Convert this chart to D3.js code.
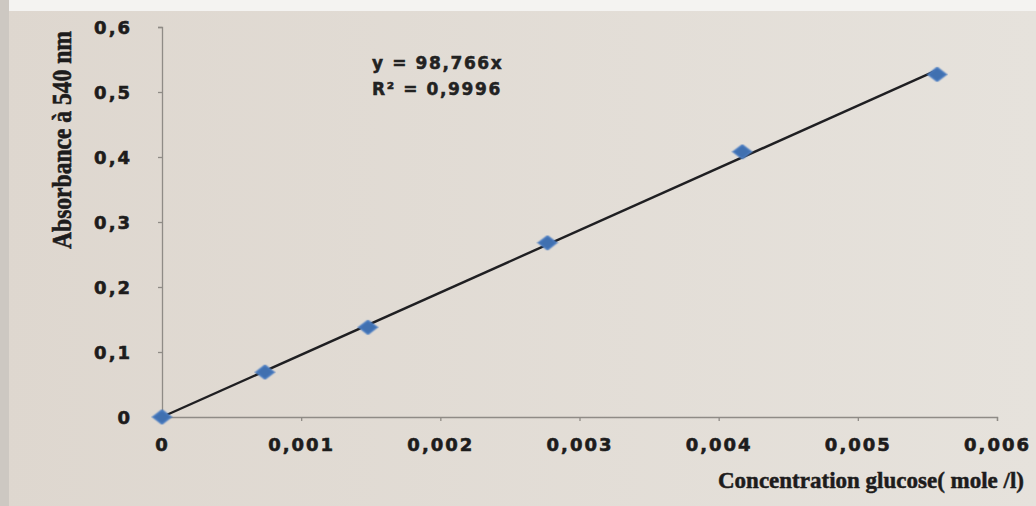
<!DOCTYPE html>
<html>
<head>
<meta charset="utf-8">
<script src="https://cdn.jsdelivr.net/npm/d3@7"></script>
<style>
  html, body { margin: 0; padding: 0; background: #e4dfd7; }
  svg { display: block; }
</style>
</head>
<body>
<div id="chart"></div>
<script>
// data
const concentration = [0, 0.00074, 0.00148, 0.00277, 0.00417, 0.00557];
const absorbance    = [0, 0.069, 0.138, 0.268, 0.408, 0.527];
const xTicks = [0, 0.001, 0.002, 0.003, 0.004, 0.005, 0.006];
const yTicks = [0, 0.1, 0.2, 0.3, 0.4, 0.5, 0.6];
const equationLines = ["y = 98,766x", "R² = 0,9996"];

const width = 1036,
      height = 506;

const margin = {left: 162, right: 39, top: 27, bottom: 89};

const svg = d3.select('#chart').append('svg')
    .attr('width', width)
    .attr('height', height);

const defs = svg.append('defs');

// photo background
const grad = defs.append('linearGradient')
    .attr('id', 'bg')
    .attr('x1', 0).attr('x2', 1).attr('y1', 0).attr('y2', 0);
grad.append('stop').attr('offset', 0).attr('stop-color', '#ded7cf');
grad.append('stop').attr('offset', 1).attr('stop-color', '#e6e2dc');

// slight blur, it is a photo
defs.append('filter').attr('id', 'soft')
  .append('feGaussianBlur').attr('stdDeviation', 0.7);

svg.append('rect').attr('width', width).attr('height', height).attr('fill', 'url(#bg)');
svg.append('rect').attr('width', width).attr('height', 11).attr('fill', '#f4f3f1');
svg.append('rect').attr('width', 9).attr('height', height).attr('fill', '#cdc8c2');

const x = d3.scaleLinear().domain([0, 0.006]).range([margin.left, width - margin.right]);
const y = d3.scaleLinear().domain([0, 0.6]).range([height - margin.bottom, margin.top]);

const fmt = d => d3.format('')(d).replace('.', ',');

const ink = '#1d1c1c';

// x axis
const xAxis = svg.append('g')
    .attr('class', 'x axis')
    .attr('transform', 'translate(0,' + y(0) + ')')
    .call(d3.axisBottom(x).tickValues(xTicks).tickSize(4).tickPadding(17).tickFormat(fmt));

// y axis
const yAxis = svg.append('g')
    .attr('class', 'y axis')
    .attr('transform', 'translate(' + x(0) + ',0)')
    .call(d3.axisLeft(y).tickValues(yTicks).tickSize(4).tickPadding(26).tickFormat(fmt));

svg.selectAll('.axis path, .axis line')
    .attr('stroke', '#8f8b86')
    .attr('stroke-width', 1.3);
svg.selectAll('.axis text')
    .attr('fill', ink)
    .attr('stroke', ink)
    .attr('stroke-width', 0.6)
    .style('font-family', '"DejaVu Sans", sans-serif')
    .style('font-weight', 'bold')
    .style('font-size', '18px')
    .style('letter-spacing', '2px');
yAxis.selectAll('text').attr('dy', '0.35em');

// trend line through the origin, least squares
const slope = d3.sum(concentration, (c, i) => c * absorbance[i]) /
              d3.sum(concentration, c => c * c);
const trend = [0, d3.max(concentration)].map(c => ({c: c, a: slope * c}));

svg.append('path')
    .datum(trend)
    .attr('fill', 'none')
    .attr('stroke', '#1f1f22')
    .attr('stroke-width', 2.4)
    .attr('d', d3.line().x(d => x(d.c)).y(d => y(d.a)));

// points
svg.selectAll('.pt')
    .data(concentration)
    .enter().append('path')
    .attr('class', 'pt')
    .attr('filter', 'url(#soft)')
    .attr('transform', (c, i) => 'translate(' + x(c) + ',' + y(absorbance[i]) + ') scale(1.3,1)')
    .attr('d', d3.symbol().type(d3.symbolDiamond2).size(120))
    .attr('fill', '#3f6fb0')
    .attr('stroke', '#4a7cc0')
    .attr('stroke-width', 1.5);

// equation
svg.append('g').selectAll('text')
    .data(equationLines)
    .enter().append('text')
    .attr('x', 372)
    .attr('y', (d, i) => 69 + i * 26)
    .text(d => d)
    .attr('fill', '#222')
    .attr('stroke', '#222')
    .attr('stroke-width', 0.5)
    .style('font-family', '"DejaVu Sans", sans-serif')
    .style('font-weight', 'bold')
    .style('font-size', '17px')
    .style('letter-spacing', '1.6px');

// axis titles
svg.append('text')
    .attr('transform', 'translate(71,140) rotate(-90)')
    .attr('text-anchor', 'middle')
    .attr('textLength', 218)
    .attr('lengthAdjust', 'spacingAndGlyphs')
    .text('Absorbance à 540 nm')
    .attr('fill', ink)
    .attr('stroke', ink)
    .attr('stroke-width', 0.6)
    .style('font-family', '"Liberation Serif", serif')
    .style('font-weight', 'bold')
    .style('font-size', '27px');

svg.append('text')
    .attr('x', 1024)
    .attr('y', 488)
    .attr('text-anchor', 'end')
    .attr('textLength', 306)
    .attr('lengthAdjust', 'spacingAndGlyphs')
    .text('Concentration glucose( mole /l)')
    .attr('fill', ink)
    .attr('stroke', ink)
    .attr('stroke-width', 0.5)
    .style('font-family', '"Liberation Serif", serif')
    .style('font-weight', 'bold')
    .style('font-size', '23px');
</script>
</body>
</html>
